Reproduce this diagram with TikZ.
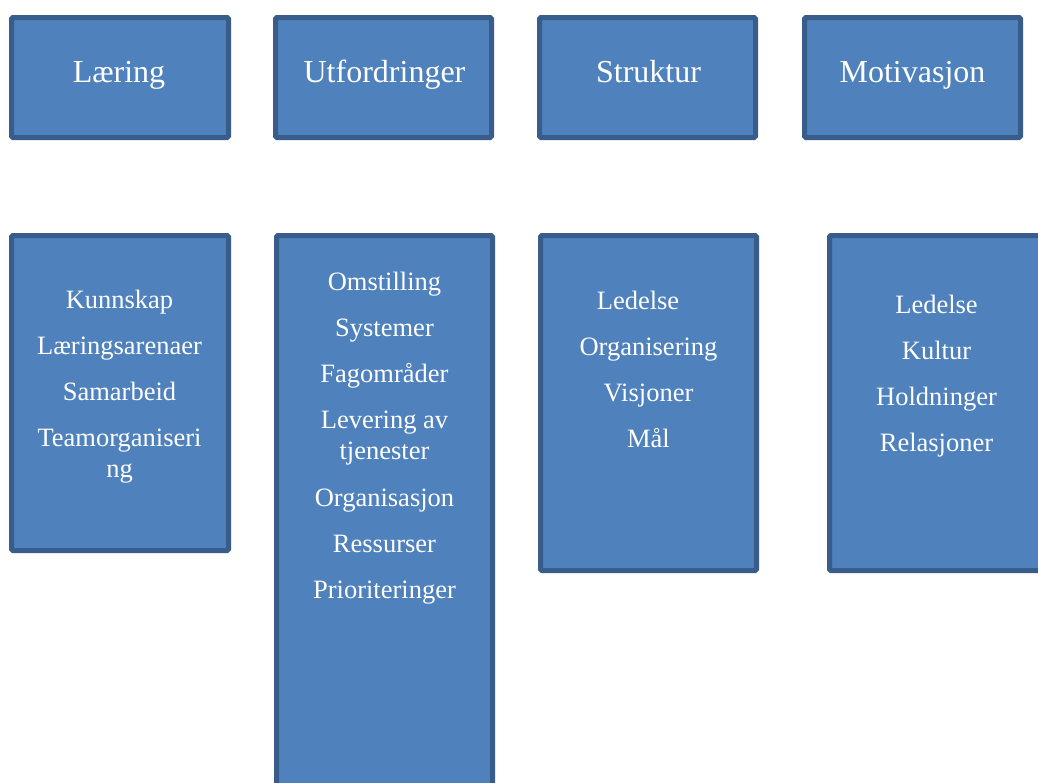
\documentclass[tikz,border=0pt]{standalone}
\usepackage{fontspec}
\setmainfont{Liberation Serif}
\definecolor{boxfill}{HTML}{4F81BD}
\definecolor{boxline}{HTML}{385D8A}
\tikzset{
  panel/.style={draw=boxline, fill=boxfill, line width=5pt, rounded corners=1.5pt,
    inner sep=0pt, outer sep=0pt},
  head/.style={text=white, font=\fontsize{32}{38}\selectfont, anchor=base, inner sep=0pt},
  item/.style={text=white, font=\fontsize{26.5}{31}\selectfont, anchor=base, inner sep=0pt},
}
\begin{document}
\begin{tikzpicture}[x=1pt,y=-1pt]
\clip (0,0) rectangle (1038,782);
\fill[white] (0,0) rectangle (1038,782);

% top row of headings
\node[panel, minimum width=217pt, minimum height=120pt] (hLaering) at (120,77.5) {};
\node[panel, minimum width=216pt, minimum height=120pt] (hUtf) at (383.5,77.5) {};
\node[panel, minimum width=216pt, minimum height=120pt] (hStruktur) at (647.5,77.5) {};
\node[panel, minimum width=216pt, minimum height=120pt] (hMotiv) at (912.5,77.5) {};

\node[head] (tLaering) at (119,82) {Læring};
\node[head] (tUtf) at (384.5,82) {Utfordringer};
\node[head] (tStruktur) at (648.5,82) {Struktur};
\node[head] (tMotiv) at (912.5,82) {Motivasjon};

% lower row of content boxes
\node[panel, minimum width=217pt, minimum height=315pt] (bLaering) at (120,393) {};
\node[panel, minimum width=216pt, minimum height=600pt] (bUtf) at (384.5,535.5) {};
\node[panel, minimum width=216pt, minimum height=335pt] (bStruktur) at (648.5,403) {};
\node[panel, minimum width=214pt, minimum height=335pt] (bMotiv) at (936.5,403) {};

\foreach \txt/\yy [count=\i] in {Kunnskap/308, Læringsarenaer/354, Samarbeid/400,
    Teamorganiseri/446, ng/477}
  \node[item] (iL\i) at (119.5,\yy) {\txt};

\foreach \txt/\yy [count=\i] in {Omstilling/290, Systemer/336, Fagområder/382,
    Levering av/428, tjenester/459, Organisasjon/506, Ressurser/552, Prioriteringer/598}
  \node[item] (iU\i) at (384.5,\yy) {\txt};

\node[item] (iS1) at (638,309) {Ledelse};
\foreach \txt/\yy [count=\i from 2] in {Organisering/355, Visjoner/401, Mål/447}
  \node[item] (iS\i) at (648.5,\yy) {\txt};

\foreach \txt/\yy [count=\i] in {Ledelse/313, Kultur/359, Holdninger/405, Relasjoner/451}
  \node[item] (iM\i) at (936.5,\yy) {\txt};
\end{tikzpicture}
\end{document}
